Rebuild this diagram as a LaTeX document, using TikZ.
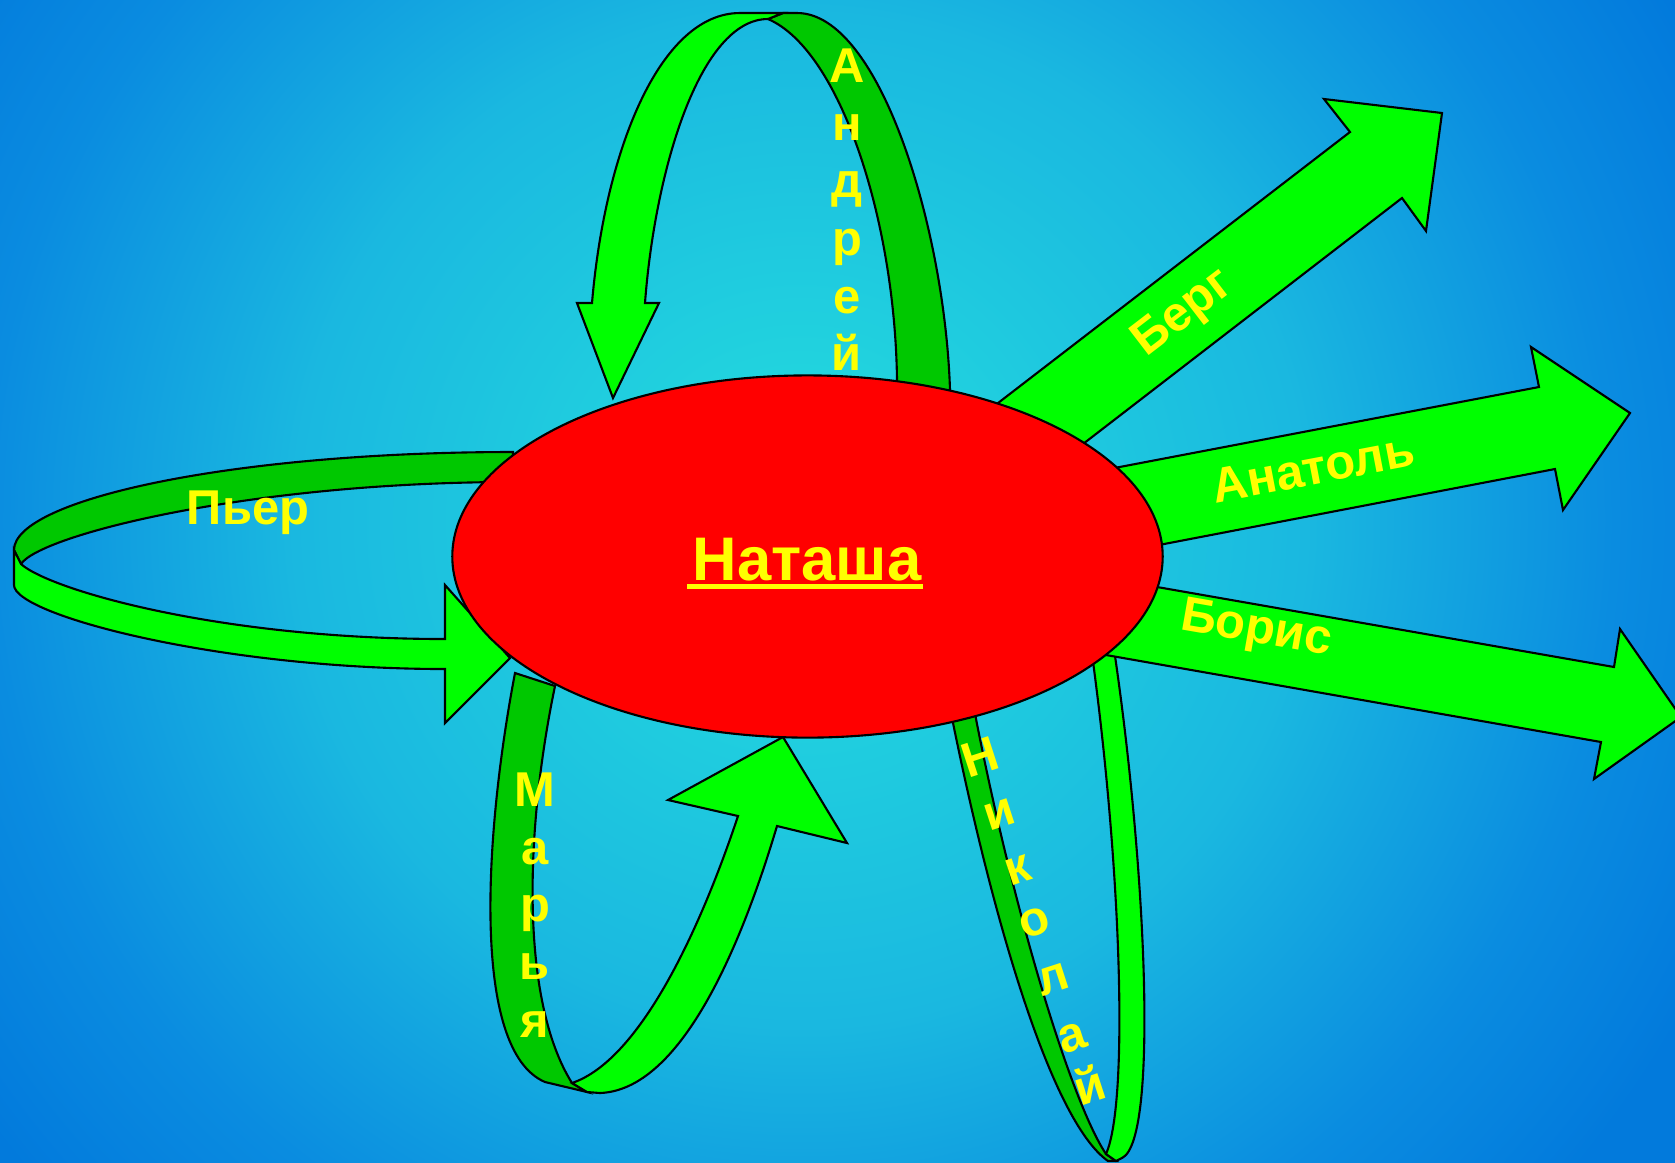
\documentclass[tikz,border=0pt]{standalone}
\usepackage{fontspec}
\setmainfont{Liberation Sans}
\usetikzlibrary{shapes.geometric}
\definecolor{lgreen}{RGB}{0,255,0}
\definecolor{dgreen}{RGB}{0,200,0}
\definecolor{natred}{RGB}{255,0,0}
\definecolor{lblyellow}{RGB}{255,255,0}
\definecolor{bgA}{RGB}{34,214,222}
\definecolor{bgB}{RGB}{26,184,224}
\definecolor{bgC}{RGB}{10,140,224}
\definecolor{bgD}{RGB}{2,122,220}
\pgfdeclareradialshading{glow}{\pgfpointorigin}{color(0bp)=(bgA); color(2.5bp)=(bgA); color(11.5bp)=(bgB); color(18.5bp)=(bgC); color(23bp)=(bgD); color(50bp)=(bgD)}
\tikzset{
  light/.style={fill=lgreen,draw=black,line width=0.6pt},
  dark/.style={fill=dgreen,draw=black,line width=0.6pt},
  lbl/.style={text=lblyellow,font=\bfseries\fontsize{13.9}{16.4}\selectfont,inner sep=0pt},
  bigtxt/.style={text=lblyellow,font=\bfseries\fontsize{17.5}{20}\selectfont,inner sep=0pt},
  nik/.style={lbl,rotate=18}
}
\begin{document}
\begin{tikzpicture}[x=0.01cm,y=-0.01cm]
    \useasboundingbox (0,0) rectangle (1675,1162);
    \clip (0,0) rectangle (1675,1162);
    \shade[shading=glow] (800,520) circle (11cm);
    % Andrey loop
    \draw[dark] (768,19) -- (783,13) -- (797,13) .. controls (880,13) and (945,230) .. (950,390) -- (952,405) -- (899,405) -- (897,380) .. controls (895,220) and (840,50) .. (768,19) -- cycle;
    \draw[light] (592,303) .. controls (605,150) and (660,13) .. (740,13) -- (783,13) -- (768,19) .. controls (700,19) and (655,170) .. (645,303) -- (659,303) -- (613,398) -- (577,303) -- cycle;
    % Pierre loop
    \draw[dark] (513,452) .. controls (230,452) and (14,500) .. (14,550) -- (21,564) .. controls (40,535) and (250,482) .. (513,482) -- cycle;
    \draw[light] (14,550) -- (14,585) .. controls (14,615) and (220,669) .. (445,669) -- (445,723) -- (510,658) -- (445,585) -- (445,639) .. controls (220,639) and (50,590) .. (21,564) -- cycle;
    % Marya loop
    \draw[dark] (515,673) -- (555,686) .. controls (525,830) and (520,1000) .. (572,1083) -- (587,1092) -- (545,1082) .. controls (470,1050) and (485,830) .. (515,673) -- cycle;
    \draw[light] (572,1083) .. controls (640,1060) and (700,930) .. (738,816) -- (668,800) -- (783,737) -- (847,843) -- (777,826) .. controls (740,950) and (680,1090) .. (600,1093) -- (587,1092) -- cycle;
    % Nikolay loop
    \draw[dark] (949,703) .. controls (990,910) and (1050,1120) .. (1108,1161) -- (1116,1161) -- (1106,1154) .. controls (1070,1100) and (1010,900) .. (972,698) -- cycle;
    \draw[light] (1106,1154) .. controls (1130,1100) and (1120,850) .. (1090,640) -- (1112,636) .. controls (1145,850) and (1160,1140) .. (1122,1158) -- (1116,1161) -- cycle;
    % straight arrows
    \draw[light] (937,450) -- (1350,132) -- (1324,99) -- (1442,113) -- (1426,231) -- (1402,198) -- (1022,491) -- cycle;
    \draw[light] (1020,486) -- (1539,387) -- (1531,347) -- (1630,413) -- (1563,510) -- (1555,469) -- (1065,563) -- cycle;
    \draw[light] (1060,570) -- (1614,667) -- (1620,629) -- (1681,717) -- (1594,779) -- (1601,742) -- (1015,639) -- cycle;
    % centre
    \node[ellipse,fill=natred,draw=black,line width=0.6pt,minimum width=7.1cm,minimum height=3.62cm,inner sep=0pt] (natasha) at (807.5,556.5) {};
    \node[bigtxt,anchor=base] (natashatxt) at (807,580) {Наташа};
    \fill[lblyellow] ([xshift=-1.4pt,yshift=-1.1pt]natashatxt.base west) rectangle ([xshift=0.3pt,yshift=-2.5pt]natashatxt.base east);
    % names
    \node[lbl,anchor=base] (pier) at (248,524) {Пьер};
    \node[lbl,align=center,anchor=north] (andrey) at (847,48) {А\\н\\д\\р\\е\\й};
    \node[lbl,align=center,anchor=north] (marya) at (535,772) {М\\а\\р\\ь\\я};
    \node[nik] (n1) at (980,757) {Н};
    \node[nik] (n2) at (1000,815) {и};
    \node[nik] (n3) at (1018,870) {к};
    \node[nik] (n4) at (1035,923) {о};
    \node[nik] (n5) at (1053,980) {л};
    \node[nik] (n6) at (1072,1038) {а};
    \node[nik] (n7) at (1089,1085) {й};
    \node[lbl,rotate=37.5] (berg) at (1184,314) {Берг};
    \node[lbl,rotate=10.8] (anatol) at (1313,468) {Анатоль};
    \node[lbl,rotate=-9.9] (boris) at (1256,631) {Борис};
\end{tikzpicture}
\end{document}
